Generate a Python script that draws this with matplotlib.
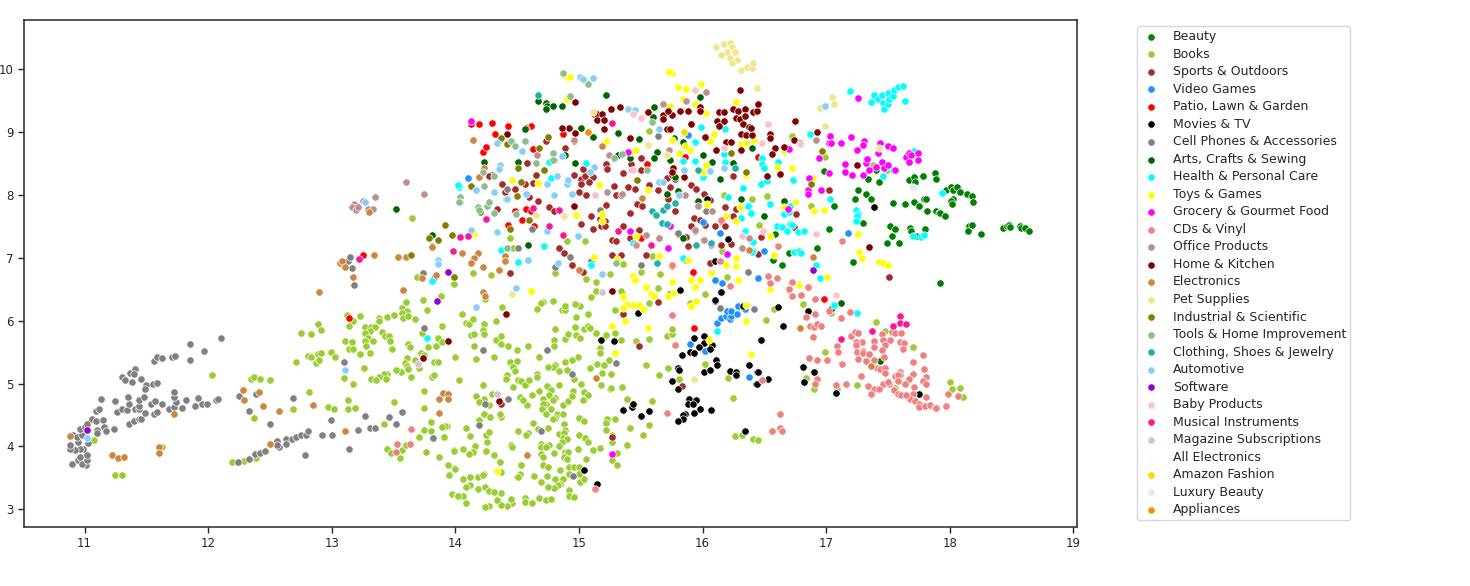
import matplotlib
matplotlib.use("Agg")
import matplotlib.pyplot as plt

beauty = [(17.26,8.08),(17.32,8.01),(17.36,7.94),(17.23,7.94),(17.54,7.87),(17.64,7.85),(17.71,7.89),(17.75,7.83),(17.79,7.94),(17.81,7.94),(17.82,7.75),(17.89,7.75),(17.91,7.71),(17.92,7.71),(17.96,7.67),(17.97,8.08),(18.01,8.13),(18.03,8.07),(18.06,8.12),(18.08,8.04),(18.14,8.01),(18.18,7.98),(18.19,7.89),(18.03,7.94),(18.01,7.90),(18.02,7.85),(17.67,8.23),(17.71,8.29),(17.72,8.21),(17.78,8.30),(17.88,8.34),(17.89,8.26),(17.34,8.25),(17.43,8.20),(17.40,8.39),(16.98,8.38),(17.06,7.83),(17.30,7.55),(17.02,7.45),(17.52,7.51),(17.56,7.46),(17.68,7.47),(17.69,7.42),(17.80,7.45),(17.73,7.35),(17.53,7.35),(17.49,7.23),(17.59,7.24),(16.93,7.15),(16.70,7.08),(17.22,6.93),(16.64,6.88),(16.57,6.97),(16.59,7.38),(18.16,7.51),(18.18,7.52),(18.15,7.43),(18.25,7.38),(18.43,7.48),(18.46,7.51),(18.48,7.52),(18.49,7.49),(18.57,7.51),(18.58,7.48),(18.61,7.48),(18.64,7.43),(17.92,6.60)]

books = [(12.03,5.14),(12.35,5.08),(12.37,5.10),(12.42,5.08),(12.50,5.05),(12.37,4.46),(12.69,4.59),(12.82,4.87),(12.97,4.62),(13.02,4.60),(13.13,4.74),(13.13,4.59),(13.19,4.61),(13.50,4.71),(13.42,4.35),(13.75,4.89),(13.75,4.61),(13.80,4.39),(13.75,4.27),(13.80,4.24),(13.89,4.31),(13.93,4.32),(13.71,4.15),(13.91,4.15),(13.45,3.96),(13.48,3.90),(13.57,3.95),(13.60,4.02),(13.55,3.82),(13.76,3.91),(13.87,3.83),(13.99,3.94),(13.94,3.70),(13.99,3.66),(13.95,3.54),(13.97,3.24),(14.01,3.22),(12.19,3.75),(12.29,3.77),(12.39,3.82),(11.08,4.10),(11.63,3.99),(11.25,3.55),(11.30,3.54),
 (13.12,6.09),(13.17,5.99),(13.14,5.91),(13.23,6.07),(13.38,6.05),(13.38,6.0),(13.45,6.06),(13.50,6.09),(13.57,6.20),(13.60,6.29),(13.61,6.15),(13.57,6.12),(13.58,6.05),(13.62,6.07),(13.67,6.03),(13.74,6.33),(13.77,6.17),(13.88,6.40),(13.89,5.91),(13.73,5.81),(13.27,5.90),(13.32,5.90),(13.35,5.90),(13.31,5.83),(13.27,5.81),(13.41,5.82),(13.43,5.75),(13.46,5.75),(13.47,5.67),(13.29,5.73),(13.33,5.68),(13.27,5.68),(13.11,5.68),(13.16,5.66),(13.14,5.55),(13.17,5.55),(13.28,5.59),(13.23,5.47),(13.31,5.49),(13.49,5.55),(13.62,5.63),(13.63,5.58),(13.78,5.58),(13.84,5.59),(13.88,5.67),(13.86,5.73),(13.72,5.48),(13.75,5.45),(14.0,5.43),(13.61,5.40),(13.59,5.32),(13.61,5.28),(13.62,5.23),(13.67,5.38),(13.71,5.24),(13.83,5.35),(13.86,5.34),(13.56,5.19),(13.52,5.22),(13.45,5.16),(13.42,5.16),(13.38,5.10),(13.32,5.07),(13.36,5.05),(13.44,5.07),(13.64,5.11),(13.26,5.25),(13.10,5.09),(13.17,5.0),(13.81,5.10),(13.83,5.14),(13.69,6.70),(13.98,6.59),(13.65,7.64),(12.89,5.94),(12.91,5.85),(12.75,5.80),(12.83,5.79),(12.81,5.44),(12.83,5.42),(12.89,5.47),(12.91,5.48),(12.99,5.50),(13.03,5.43),(12.87,5.32),(12.90,5.37),(12.71,5.35),
 (14.05,6.11),(14.09,5.97),(14.11,5.95),(14.14,6.02),(14.23,5.94),(14.22,5.85),(14.23,5.79),(14.13,5.78),(14.15,5.79),(14.33,6.0),(14.38,6.21),(14.24,6.34),(13.89,5.66),(14.33,5.70),(14.37,5.76),(14.37,5.63),(14.15,5.59),(14.0,5.43),(14.17,5.39),(14.31,5.42),(14.43,5.59),(14.50,5.53),(14.59,5.60),(14.68,5.42),(14.80,5.69),(14.80,5.59),(14.89,5.71),(14.81,5.87),(14.91,5.79),(14.97,5.90),(14.98,6.06),(15.07,6.11),(15.01,6.23),(14.97,6.27),(14.86,6.17),(14.89,6.17),(14.89,6.23),(14.79,6.32),(14.71,6.30),(14.69,6.28),(14.66,6.19),(15.04,5.86),(15.07,5.92),(15.09,5.89),(15.14,5.81),(14.98,5.77),(15.01,5.72),(14.99,5.43),(14.94,5.38),(14.89,5.35),(14.81,5.30),(14.79,5.27),(14.75,5.26),(14.44,5.34),(14.50,5.36),(14.47,5.27),(14.48,5.20),(14.42,5.14),(14.41,5.08),(14.03,5.06),(14.22,4.97),(14.47,4.95),(14.51,5.05),(14.53,5.04),(14.56,4.98),(14.60,5.06),(14.66,5.16),(14.66,5.11),(14.84,5.20),(14.90,5.21),(14.96,5.07),(15.02,4.99),(15.09,5.25),(15.15,5.31),(15.20,5.30),(15.24,5.38),(15.17,5.56),(15.17,5.49),(15.19,5.17),(15.26,5.15),(15.18,4.97),(15.25,4.91),(15.26,4.93),(15.35,4.94),(15.39,4.76),(15.29,5.81),(15.22,5.77),(15.34,5.70),(15.46,5.67),(15.57,5.71),(15.29,6.17),(15.54,5.29),(15.65,5.13),(15.72,5.24),(15.81,5.07),(16.02,5.31),(16.21,5.09),(16.25,4.77),(15.59,4.72),(15.71,5.75),(15.75,5.79),(15.75,5.86),(15.90,6.28),(16.02,6.43),(15.57,6.28),(15.35,6.44),(15.10,6.38),
 (14.68,4.89),(14.62,4.82),(14.74,4.96),(14.77,4.90),(14.84,4.97),(14.76,4.82),(14.71,4.75),(14.81,4.77),(14.79,4.74),(14.73,4.68),(14.71,4.67),(14.70,4.60),(14.73,4.52),(14.77,4.59),(14.82,4.52),(14.87,4.66),(14.91,4.73),(14.95,4.88),(14.94,4.81),(15.04,4.87),(15.07,4.82),(15.03,4.74),(14.87,4.52),(14.81,4.45),(14.79,4.44),(14.88,4.35),(14.89,4.27),(14.63,4.37),(14.67,4.28),(14.75,4.29),(14.84,4.20),(14.88,4.22),(14.87,4.13),(14.90,4.12),(14.86,4.07),(14.84,4.0),(14.89,3.91),(14.91,3.91),(14.88,3.83),(14.90,3.80),(15.0,4.19),(15.0,4.45),(15.04,4.40),(15.05,4.14),(15.07,4.07),(14.99,3.96),(15.06,3.80),(15.11,3.95),(15.17,3.97),(15.27,4.07),(15.27,4.19),(15.29,4.43),(15.23,4.44),(15.22,4.38),(15.22,4.27),(15.41,4.29),(15.57,4.34),(15.52,4.19),(15.39,4.02),(15.31,3.90),(15.27,3.79),(15.31,3.70),(14.51,4.24),(14.59,4.22),(14.57,4.18),(14.69,4.04),(14.69,3.99),(14.76,4.02),(14.73,3.99),(14.69,3.88),(14.71,3.83),(14.80,3.89),(14.45,4.03),(14.46,3.99),(14.53,3.70),(14.52,3.56),(14.50,3.51),(14.51,3.52),(14.64,3.53),(14.74,3.53),(14.69,3.44),(14.71,3.70),(14.75,3.67),(14.85,3.63),(14.92,3.67),(14.96,3.67),(15.0,3.67),(14.92,3.57),(14.87,3.49),(14.81,3.48),(14.85,3.40),(14.83,3.38),(14.80,3.34),(14.75,3.35),(15.01,3.44),(15.04,3.48),(15.0,3.56),(14.92,3.31),(14.92,3.22),(14.96,3.19),(14.68,3.18),(14.73,3.15),(14.77,3.16),(14.56,3.18),(14.56,3.11),(14.62,3.10),(14.46,3.10),(14.45,3.16),(14.42,3.05),(14.37,3.07),(14.34,3.15),(14.37,3.26),(14.27,3.06),(14.24,3.04),(14.09,3.10),(14.06,3.21),(14.02,3.22),(14.18,3.33),(14.24,3.36),(14.27,3.30),(14.31,3.27),(14.12,3.38),(14.09,3.36),(14.06,3.48),(14.12,3.52),(14.18,3.51),(14.23,3.57),(14.22,3.55),(14.0,3.65),(13.94,3.70),(14.37,3.59),(14.36,3.75),(14.31,3.87),(14.16,4.0),(14.14,3.91),(14.11,3.88),(14.25,3.93),(14.26,4.07),(14.25,4.18),(14.27,4.23),(14.12,4.16),(14.09,4.30),(13.92,4.33),(13.89,4.31),(13.99,3.93),(14.06,3.96),(14.23,4.51),(14.28,4.47),(14.19,4.42),(14.37,4.47),(14.36,4.51),(14.27,4.66),(14.23,4.76),(14.17,4.80),(14.30,4.84),(14.19,4.71),(14.58,4.66),(14.54,4.75),(14.52,4.79),(14.55,4.74),
 (16.26,4.16),(16.32,4.19),(16.41,4.12),(16.45,4.11),(14.44,7.45),(14.44,7.31),(14.42,7.15),(14.47,7.15),(14.90,7.26),(15.05,7.26),(14.14,6.76),(14.29,6.73),(13.99,6.59),(14.81,6.76),(15.06,6.67),(15.14,6.62),(15.25,6.74),(15.14,6.47),(15.34,6.47),(15.50,6.77),(15.36,6.90),(15.59,7.03),(15.57,9.01),(15.66,6.74),(15.64,6.52),(16.02,6.42),(16.20,6.69),(16.16,7.10),(16.17,7.99),(16.40,7.93),
 (16.72,8.93),(16.99,8.61),(17.38,8.48),(17.49,8.39),(16.52,7.98),(16.88,7.83),(16.46,7.52),(17.40,5.98),(17.48,5.83),(17.70,5.58),(16.99,5.50),(16.81,6.26),(17.04,6.12),(16.58,6.19),(16.51,6.01),(16.84,5.09),(16.90,4.91),(17.09,4.92),(17.25,4.97),(17.56,4.93),(18.0,5.02),(18.02,4.92),(18.08,4.93),(18.11,4.78)]

sports = [(14.73,8.85),(14.89,8.75),(14.58,8.51),(14.65,8.32),(14.63,8.19),(14.38,8.18),(14.30,8.31),(14.27,8.30),(14.56,8.17),(14.48,8.10),(14.40,8.04),(14.60,7.96),(14.67,7.90),(14.34,7.77),(14.76,7.80),(14.80,7.74),(15.0,8.05),(15.02,8.25),(15.05,8.30),(15.03,8.41),(15.11,8.28),(15.08,8.20),(15.02,8.17),(15.06,8.0),(14.96,8.31),(15.22,8.49),(15.23,8.41),(15.36,8.34),(15.42,8.49),(15.50,8.58),(15.43,8.40),(15.50,8.39),(15.28,8.14),(15.40,8.12),(15.45,8.09),(15.22,7.84),(15.30,7.99),(15.34,8.0),(15.47,7.86),(15.51,7.82),(15.41,7.71),(15.10,7.67),(15.11,7.46),(15.02,7.54),(15.17,7.61),(15.21,7.59),(15.18,7.50),(15.21,7.50),(15.36,7.51),(15.49,7.44),(15.41,7.32),(15.27,7.29),(15.30,7.26),(14.84,7.16),(14.88,7.08),(14.94,6.89),(15.03,6.77),(15.27,7.05),(15.34,7.05),(15.54,7.04),(15.92,6.76),(15.75,6.87),(15.57,8.16),(15.64,8.08),(15.74,8.12),(15.78,8.26),(15.71,8.27),(15.75,8.32),(15.72,7.94),(15.78,7.74),(15.91,8.15),(15.95,8.09),(16.01,8.01),(16.06,7.92),(16.18,7.81),(16.27,7.77),(16.25,7.67),(16.15,7.59),(16.18,7.51),(16.10,7.51),(16.02,7.52),(15.93,7.63),(15.98,7.60),(15.91,7.51),(15.94,7.43),(15.87,7.33),(15.88,7.18),(15.80,7.38),(15.65,7.31),(16.23,7.22),(16.15,7.20),(16.06,6.92),(16.25,8.30),(14.44,6.75),(15.36,6.11),(15.64,6.29),(15.49,5.59),(15.83,4.96),(14.37,4.68),(15.27,4.15),(17.02,8.07),(16.76,7.69),(16.74,7.49),(16.47,7.33),(16.45,7.06),(17.51,6.70)]

video_games = [(16.12,5.97),(16.15,6.04),(16.19,6.08),(16.22,6.02),(16.23,6.08),(16.20,6.16),(16.23,6.16),(16.29,6.23),(16.28,6.11),(16.34,6.19),(15.90,5.63),(16.02,5.52),(16.38,5.10),(14.10,8.27),(15.88,8.95),(16.14,7.39),(16.00,7.57),(16.10,6.65),(16.16,6.60),(16.45,6.68),(17.18,7.40),(16.50,7.11)]

patio = [(14.13,9.12),(14.19,9.12),(14.30,9.14),(14.43,9.09),(14.61,9.10),(14.57,9.06),(14.32,8.96),(14.22,8.68),(14.25,8.76),(14.63,8.73),(14.87,8.97),(14.96,8.86),(14.57,7.78),(14.48,7.75),(14.54,7.60),(14.61,7.74),(14.64,7.51),(14.43,7.52),(15.55,8.49),(15.86,8.61),(15.50,7.31),(15.92,6.77),(15.87,6.96),(13.25,7.04),(13.14,6.05),(15.93,5.89),(16.98,6.34),(16.45,8.61)]

movies = [(15.18,5.70),(15.28,5.68),(15.48,6.13),(15.74,6.43),(16.10,6.31),(16.15,6.45),(16.33,6.24),(16.01,5.76),(15.93,5.72),(16.01,5.65),(15.97,5.58),(16.08,5.61),(16.06,5.55),(15.90,5.50),(15.83,5.46),(15.93,5.48),(16.11,5.37),(16.12,5.30),(15.80,5.24),(15.81,5.21),(15.75,5.04),(15.80,4.92),(16.01,5.19),(16.06,5.21),(16.22,5.20),(16.27,5.18),(16.27,5.14),(16.38,5.30),(16.44,5.19),(16.43,4.99),(15.89,4.76),(15.95,4.74),(15.88,4.68),(15.92,4.67),(15.98,4.60),(16.07,4.58),(15.93,4.53),(15.86,4.52),(15.84,4.50),(15.84,4.43),(15.80,4.41),(15.36,4.58),(15.43,4.63),(15.44,4.68),(15.50,4.48),(15.57,4.56),(15.04,3.62),(15.15,3.40),(16.34,4.24),(16.61,6.21),(16.85,6.16),(17.04,6.19),(16.65,5.91),(16.47,5.69),(16.45,5.19),(16.53,5.07),(16.44,5.0),(16.81,5.27),(16.90,5.19),(16.82,5.02),(17.08,4.85),(17.75,4.83),(17.39,7.80),(16.10,6.95),(16.04,7.93),(16.21,7.30),(15.82,6.49),(16.15,6.46),(16.10,6.33)]

cell_phones = [(10.90,3.72),(10.95,3.78),(10.96,3.83),(11.01,3.71),(10.98,3.72),(11.02,3.78),(11.02,3.87),(10.99,3.96),(10.96,3.96),(10.92,3.95),(10.88,3.96),(10.88,4.03),(10.95,4.07),(10.91,4.18),(10.94,4.15),(10.98,4.19),(10.96,4.28),(11.0,4.31),(11.02,4.36),(11.06,4.43),(11.09,4.40),(11.15,4.42),(11.10,4.26),(11.10,4.22),(11.16,4.31),(11.17,4.24),(11.24,4.28),(11.03,4.05),(11.36,4.35),(11.40,4.41),(11.44,4.43),(11.46,4.44),(11.56,4.51),(11.59,4.55),(11.49,4.54),(11.26,4.55),(11.30,4.59),(11.34,4.58),(11.36,4.67),(11.41,4.59),(11.44,4.59),(11.44,4.65),(11.44,4.74),(11.48,4.79),(11.54,4.68),(11.57,4.72),(11.63,4.68),(11.68,4.60),(11.72,4.62),(11.74,4.71),(11.72,4.79),(11.72,4.87),(11.79,4.61),(11.82,4.74),(11.89,4.65),(11.92,4.77),(11.95,4.68),(11.99,4.67),(12.06,4.74),(12.08,4.76),(11.35,4.79),(11.25,4.72),(11.13,4.76),(11.09,4.56),(11.12,4.59),(11.30,5.11),(11.33,5.05),(11.38,5.02),(11.37,5.17),(11.41,5.23),(11.40,5.16),(11.46,5.07),(11.50,4.98),(11.49,4.92),(11.55,5.0),(11.59,5.01),(11.56,5.36),(11.59,5.43),(11.63,5.41),(11.71,5.43),(11.73,5.44),(11.85,5.38),(11.85,5.63),(11.97,5.52),(12.10,5.72),
 (12.25,4.81),(12.39,4.83),(12.33,4.57),(12.50,4.35),(12.69,4.77),(12.38,3.88),(12.42,3.89),(12.46,3.93),(12.56,4.08),(12.57,3.99),(12.63,4.12),(12.68,4.12),(12.71,4.15),(12.75,4.18),(12.79,4.18),(12.81,4.25),(12.92,4.18),(13.0,4.18),(12.78,3.87),(12.99,4.42),(13.27,4.49),(13.21,4.27),(13.31,4.29),(13.35,4.29),(13.46,4.47),(13.52,4.36),(13.57,4.55),(13.14,3.96),(13.10,5.35),(13.82,4.14),(12.24,3.76),(12.33,3.80),(12.56,4.02),(12.63,4.04),(13.75,5.88),(13.74,6.76),(13.83,6.68),(13.18,6.56),(13.16,6.83),(13.13,6.95),(13.15,7.01),(13.81,7.19),
 (14.22,5.53),(14.74,5.54),(14.94,5.15),(15.30,5.32),(16.14,6.20),(16.42,6.18),(14.24,4.67),(14.43,4.76),(14.19,4.34),(14.69,4.24),(14.95,3.53),(15.17,7.76),(14.93,7.01),(14.81,6.86),(14.51,7.16),(15.50,6.89),(16.03,7.74),(16.37,6.77),(15.80,7.39),(15.64,8.94),(14.42,8.09),(14.62,7.46),(15.10,6.95)]

arts = [(14.67,9.49),(14.73,9.46),(14.74,9.42),(14.73,9.37),(14.79,9.41),(14.86,9.41),(15.22,9.58),(14.23,8.53),(14.51,8.52),(14.89,8.63),(14.97,8.51),(15.32,8.98),(15.11,8.92),(15.49,8.89),(15.63,8.68),(15.61,8.58),(15.41,8.58),(15.32,8.63),(15.61,9.40),(15.60,9.24),(15.98,9.55),(15.77,8.91),(15.84,8.84),(16.0,8.64),(16.25,8.50),(16.08,8.52),(15.78,8.29),(16.14,8.26),(15.71,8.02),(15.80,8.06),(15.96,7.91),(16.31,7.94),(14.59,7.21),(15.84,7.32),(15.02,9.06),(16.40,8.74),(14.56,9.04),(15.74,8.55),(16.66,7.91),(16.50,7.67),(13.52,7.77),(13.81,7.36),(17.44,5.36),(17.12,6.28)]

health = [(17.19,9.65),(17.39,9.58),(17.36,9.48),(17.42,9.53),(17.45,9.58),(17.46,9.46),(17.47,9.37),(17.50,9.44),(17.50,9.62),(17.51,9.53),(17.54,9.57),(17.55,9.66),(17.58,9.71),(17.62,9.73),(17.64,9.49),(17.71,8.69),(16.48,8.58),(16.48,8.49),(16.50,8.43),(16.61,8.52),(16.47,8.18),(16.52,8.22),(16.73,8.24),(16.87,8.97),(17.03,7.93),(16.55,7.85),(16.38,7.83),(16.39,7.70),(16.66,7.70),(16.71,7.82),(16.70,7.72),(16.60,7.51),(16.64,7.49),(16.68,7.43),(16.71,7.54),(16.72,7.52),(16.77,7.41),(16.82,7.42),(17.24,7.76),(17.26,7.69),(17.25,7.67),(17.24,7.59),(17.70,7.35),(17.77,7.33),(17.79,7.36),(16.40,7.25),(16.41,7.10),(16.74,7.09),(16.78,7.11),(16.80,7.07),(16.92,6.88),(16.95,6.68),(17.46,8.30),(17.54,8.40),(17.94,8.03),(14.03,8.13),(14.76,8.52),(14.77,8.27),(15.06,8.50),(14.37,7.13),(14.72,7.19),(14.51,6.94),(15.10,6.88),(15.84,8.54),(15.94,8.84),(15.99,9.08),(16.0,8.28),(16.17,8.65),(16.18,8.52),(16.18,9.04),(16.33,8.11),(16.37,7.82),(16.39,7.71),(16.31,7.64),(16.34,7.43),(16.41,7.25),(16.40,7.09),(15.84,6.99),(15.44,7.24),(16.21,7.97),(15.94,8.54),(16.12,5.83),(17.25,6.12),(17.06,6.25),(13.77,5.73),(13.81,6.63),(14.02,8.15)]

toys = [(15.36,6.38),(15.39,6.27),(15.44,6.25),(15.49,6.25),(15.52,6.18),(15.36,6.20),(15.37,5.99),(15.27,5.91),(15.56,5.89),(15.29,5.49),(15.58,6.43),(15.61,6.39),(15.72,6.40),(15.76,6.44),(15.95,6.32),(15.91,6.23),(16.05,5.70),(16.35,6.0),(16.39,5.47),(16.35,6.25),(14.61,6.45),(14.34,3.61),(15.75,9.93),(15.73,9.96),(15.80,9.72),(15.87,9.68),(15.99,9.76),(14.90,9.53),(14.90,9.87),(14.93,9.88),(15.05,9.81),(15.84,9.53),(15.74,9.42),(15.94,9.45),(16.03,9.30),(16.27,9.48),(16.09,8.96),(16.06,8.85),(15.75,8.87),(15.81,8.67),(15.86,8.77),(15.90,8.72),(15.22,8.85),(15.42,8.68),(15.46,8.71),(14.46,8.24),(14.67,8.19),(15.16,8.16),(15.56,8.08),(14.98,7.68),(15.19,7.69),(15.19,7.59),(15.31,6.98),(15.12,7.02),(14.15,7.37),(15.46,7.35),(16.0,8.36),(16.03,8.47),(16.35,8.31),(16.31,8.81),(16.35,8.82),(16.42,8.88),(16.19,7.66),(16.27,7.59),(16.30,7.81),(16.04,7.85),(15.65,7.03),(15.88,6.96),(16.27,7.0),(16.27,6.87),(16.19,6.89),(16.07,6.76),(15.91,6.64),(15.98,6.64),(15.94,6.53),(16.29,6.65),(15.75,6.62),(15.54,6.54),(15.44,6.71),(15.45,6.64),(14.61,6.47),(16.66,8.70),(16.60,8.45),(16.72,8.42),(16.89,8.27),(16.75,7.89),(16.90,7.74),(16.98,7.76),(16.66,7.80),(17.26,7.38),(17.27,7.09),(17.29,7.0),(17.43,6.94),(17.46,6.92),(17.50,6.89),(17.01,6.70),(16.78,6.57),(16.55,6.50),(16.55,7.35),(16.58,7.05)]

grocery = [(17.26,9.54),(17.03,8.94),(17.02,8.82),(17.04,8.82),(17.12,8.83),(17.20,8.92),(17.25,8.72),(17.31,8.85),(17.30,8.80),(17.42,8.67),(17.44,8.82),(17.50,8.77),(17.54,8.75),(16.94,8.58),(16.70,8.73),(17.15,8.49),(17.15,8.37),(17.21,8.32),(17.30,8.32),(17.02,8.35),(17.32,8.50),(17.33,8.57),(17.40,8.44),(17.35,8.40),(17.45,8.52),(17.47,8.42),(17.50,8.47),(17.56,8.40),(17.65,8.60),(17.67,8.67),(17.69,8.64),(17.74,8.66),(17.74,8.56),(17.67,8.53),(16.96,8.08),(16.85,8.08),(16.85,8.01),(16.86,8.27),(16.69,7.78),(14.13,9.18),(15.74,7.51),(15.41,7.43),(15.72,7.15),(16.20,7.06),(15.40,8.68),(15.27,3.88)]

cds = [(17.19,6.14),(17.12,6.04),(16.91,6.11),(16.84,6.06),(16.87,5.91),(16.90,5.90),(16.93,5.95),(16.96,5.92),(16.89,5.74),(17.20,5.76),(17.23,5.82),(17.26,5.80),(17.45,5.79),(17.53,5.82),(17.56,5.80),(17.61,5.81),(17.39,5.67),(17.46,5.69),(17.52,5.69),(17.48,5.62),(17.39,5.58),(17.45,5.54),(17.29,5.66),(17.24,5.66),(17.24,5.61),(17.09,5.59),(17.10,5.50),(17.25,5.51),(17.30,5.52),(17.30,5.49),(17.35,5.47),(17.26,5.39),(17.32,5.36),(17.39,5.37),(17.47,5.42),(17.01,5.37),(16.86,5.40),(16.93,5.38),(17.13,5.31),(17.41,5.25),(17.44,5.23),(17.48,5.24),(17.48,5.17),(17.28,5.12),(17.60,5.66),(17.63,5.65),(17.62,5.55),(17.78,5.46),(17.70,5.35),(17.79,5.23),(17.70,5.16),(17.81,5.10),(17.78,5.04),(17.81,5.0),(17.67,5.07),(17.64,4.99),(17.60,5.19),(17.60,5.14),(17.56,5.12),(17.58,5.13),(17.58,5.04),(17.51,5.0),(17.46,5.0),(17.50,5.03),(17.55,4.90),(17.71,4.94),(17.70,4.84),(17.68,4.76),(17.72,4.72),(17.75,4.67),(17.75,4.63),(17.80,4.64),(17.81,4.78),(17.84,4.66),(17.88,4.61),(17.89,4.61),(17.97,4.65),(17.58,4.83),(17.61,4.82),(17.65,4.82),(17.39,4.92),(17.43,4.91),(17.34,4.96),(17.36,4.83),(17.16,4.99),(17.08,4.98),(16.93,5.08),(16.91,4.99),(16.48,5.06),(18.07,4.80),(17.99,4.84),(16.63,4.52),(16.56,4.24),(16.63,4.29),(16.64,4.24),(16.70,6.49),(16.72,6.40),(16.80,6.41),(16.91,6.34),(16.85,6.54),(17.02,6.16),(16.55,6.60),(17.13,7.26),(16.61,7.19),(16.53,6.71),(16.60,6.68),(16.72,6.62),(16.70,6.51),(16.85,6.53),(16.0,7.29),(16.07,7.20),(16.15,7.60),(15.75,6.88),(16.14,6.95),(16.22,6.55),(15.46,7.20),(15.75,6.09),(15.78,5.62),(15.71,4.54),(15.13,3.32),(13.64,4.28),(13.53,4.04),(13.52,3.91),(13.63,4.04)]

office = [(13.35,7.97),(13.18,7.86),(13.16,7.81),(13.20,7.76),(13.21,7.81),(13.25,7.90),(13.29,7.77),(13.33,7.77),(13.75,8.01),(13.60,8.21),(14.66,8.63),(15.24,8.64),(15.23,8.04),(15.35,8.01),(15.68,9.44),(15.87,9.50),(16.03,9.63),(15.73,8.71),(15.86,8.0),(15.96,7.83),(16.08,7.74),(15.54,7.36),(15.65,7.31),(16.01,7.29),(16.32,7.16),(16.38,7.32),(15.94,7.44),(16.12,9.17),(14.96,8.88),(14.41,7.93),(16.92,8.88)]

home_kitchen = [(14.97,9.47),(14.97,8.98),(14.92,9.07),(14.86,9.06),(15.12,9.29),(15.15,9.29),(15.19,9.29),(15.15,9.19),(15.20,9.19),(15.20,9.05),(15.26,9.36),(15.33,9.40),(15.41,8.91),(15.56,9.32),(15.68,9.27),(15.68,9.21),(15.75,9.27),(15.72,9.34),(15.71,9.04),(15.74,9.04),(15.82,9.34),(15.88,9.33),(15.91,9.12),(15.98,9.39),(15.98,9.33),(16.30,9.66),(16.13,9.32),(16.17,9.32),(16.25,9.37),(16.29,9.33),(16.34,9.36),(16.41,9.32),(16.44,9.33),(16.27,9.22),(16.12,9.17),(16.17,9.17),(16.13,9.10),(16.30,9.21),(16.34,9.25),(16.33,9.12),(16.38,9.08),(16.31,8.96),(16.35,8.95),(16.40,8.95),(16.19,8.84),(16.23,8.84),(16.31,8.72),(16.11,8.72),(16.02,8.92),(15.76,8.43),(15.75,8.36),(15.85,8.28),(14.96,7.82),(14.42,8.96),(15.27,6.47),(14.41,6.10),(13.94,5.68),(14.35,4.73),(13.74,5.40),(16.45,9.45),(16.75,9.17),(16.93,9.0),(16.55,8.96),(16.55,8.91),(16.39,9.07),(16.74,8.88),(16.79,8.83),(16.59,8.74),(16.66,8.76),(16.56,8.65),(16.52,8.30),(16.63,8.33),(17.25,8.48),(17.35,7.17)]

electronics = [(10.88,4.17),(11.22,3.87),(11.27,3.82),(11.32,3.83),(11.60,3.99),(11.60,3.89),(11.72,4.52),(12.28,4.90),(12.41,4.86),(12.29,4.74),(12.44,4.65),(12.57,4.57),(12.85,4.66),(13.11,4.25),(12.50,4.04),(13.87,4.54),(13.90,4.85),(13.94,4.83),(13.87,4.75),(13.94,4.76),(13.58,6.49),(13.17,6.69),(12.90,6.45),(13.07,6.92),(13.08,6.95),(13.11,6.85),(13.34,7.04),(13.54,7.02),(13.60,7.02),(13.81,7.17),(13.84,6.73),(13.73,6.68),(13.30,7.72),(15.14,5.09),(14.58,3.86),(14.14,8.88),(14.19,8.29),(14.23,8.43),(15.51,7.95),(15.19,8.77),(14.05,7.08),(14.18,7.08),(14.15,7.0),(14.13,6.91),(14.22,6.85),(14.35,6.81),(14.40,7.03),(14.40,6.95),(14.22,6.46),(14.24,6.40),(15.0,6.81),(16.38,7.13),(16.79,5.88),(17.36,5.28),(16.89,7.02)]

pet_supplies = [(16.11,10.35),(16.17,10.40),(16.22,10.42),(16.24,10.35),(16.20,10.27),(16.26,10.27),(16.15,10.22),(16.22,10.18),(16.28,10.14),(16.24,10.10),(16.31,9.98),(16.36,10.03),(16.40,10.02),(16.44,9.70),(15.11,9.31),(14.65,7.68),(14.88,7.67),(15.56,8.80),(15.71,8.64),(14.46,6.43),(15.93,5.07),(17.05,9.56),(17.06,9.44),(16.95,9.38),(16.99,9.10),(16.41,10.09),(17.43,8.75)]

industrial = [(13.92,7.52),(13.79,7.32),(13.86,7.29),(13.97,7.36),(13.64,7.05),(13.99,6.70),(14.13,8.14),(14.37,8.90),(14.42,8.81),(14.53,8.21),(14.51,8.43),(14.50,7.98),(14.68,8.75),(14.80,8.55),(14.72,8.40),(14.75,8.92),(15.47,8.24),(16.23,8.67),(16.35,8.36),(14.60,7.60),(14.44,7.45),(14.20,7.72),(16.97,8.69),(16.88,8.17)]

tools = [(14.45,8.85),(14.48,8.77),(14.56,8.85),(14.65,8.50),(14.31,8.30),(14.22,8.36),(14.23,8.14),(14.04,7.96),(14.04,7.88),(14.18,7.80),(14.19,7.76),(14.26,7.82),(14.27,7.88),(14.31,7.71),(14.49,7.69),(14.79,8.67),(14.79,8.55),(14.42,7.15),(15.07,9.76),(14.87,9.93),(14.93,9.57),(15.28,8.59),(15.35,8.65),(15.55,8.39),(15.59,9.16),(15.30,6.91),(14.03,7.88)]

clothing = [(14.67,9.58),(15.59,7.74),(15.62,7.68),(15.68,7.76),(15.71,7.83),(15.78,7.87),(15.67,7.55),(15.71,7.53),(15.96,8.40),(16.26,8.42),(15.95,7.20),(16.07,7.23),(15.63,6.92)]

automotive = [(15.01,9.87),(15.03,9.84),(15.11,9.86),(15.40,9.36),(15.45,9.35),(15.65,9.05),(15.65,8.21),(15.68,8.21),(15.85,8.39),(16.06,8.38),(16.17,8.42),(14.36,8.48),(14.35,8.41),(14.34,8.82),(14.17,8.07),(14.31,8.05),(14.42,7.94),(14.57,8.02),(14.54,8.69),(14.80,7.99),(14.82,8.30),(14.74,8.18),(14.90,8.17),(14.91,8.23),(14.94,8.01),(15.12,8.45),(15.09,8.36),(14.74,7.42),(14.34,7.41),(14.99,7.34),(14.13,7.44),(14.59,6.96),(15.19,6.74),(14.49,6.52),(14.83,6.91),(15.81,7.99),(14.86,8.62),(13.27,7.88),(11.02,4.14),(13.11,5.21),(13.86,6.96),(13.86,6.90),(14.17,6.21),(16.99,9.41)]

software = [(11.02,4.26),(13.94,6.77),(13.85,6.31),(16.89,6.80)]
baby = [(15.50,9.22),(15.44,9.29),(15.13,8.0),(15.94,9.66),(16.17,8.75),(16.32,7.35),(15.44,8.40),(16.53,9.12),(16.48,8.82),(16.79,8.81),(16.92,7.38),(16.49,7.43),(17.08,6.41)]
musical = [(13.22,6.98),(13.98,7.11),(15.27,9.15),(14.25,7.61),(14.04,7.33),(14.10,7.35),(14.63,7.79),(14.76,7.51),(14.87,7.36),(14.84,7.76),(15.32,7.43),(15.58,7.21),(17.60,6.08),(17.54,5.91),(17.60,5.96),(17.65,5.95),(17.37,5.83),(17.12,5.71)]
magazine = [(13.70,5.31),(14.34,4.83),(15.19,6.45)]
all_electronics = [(12.65,5.52)]
amazon_fashion = [(15.85,9.00)]
luxury_beauty = [(17.70,8.12)]
appliances = [(15.07,9.00)]

series = [
    ("Beauty", beauty, "green"),
    ("Books", books, "yellowgreen"),
    ("Sports & Outdoors", sports, "brown"),
    ("Video Games", video_games, "dodgerblue"),
    ("Patio, Lawn & Garden", patio, "red"),
    ("Movies & TV", movies, "black"),
    ("Cell Phones & Accessories", cell_phones, "gray"),
    ("Arts, Crafts & Sewing", arts, "darkgreen"),
    ("Health & Personal Care", health, "cyan"),
    ("Toys & Games", toys, "yellow"),
    ("Grocery & Gourmet Food", grocery, "magenta"),
    ("CDs & Vinyl", cds, "lightcoral"),
    ("Office Products", office, "rosybrown"),
    ("Home & Kitchen", home_kitchen, "maroon"),
    ("Electronics", electronics, "peru"),
    ("Pet Supplies", pet_supplies, "khaki"),
    ("Industrial & Scientific", industrial, "olive"),
    ("Tools & Home Improvement", tools, "darkseagreen"),
    ("Clothing, Shoes & Jewelry", clothing, "lightseagreen"),
    ("Automotive", automotive, "lightskyblue"),
    ("Software", software, "darkviolet"),
    ("Baby Products", baby, "pink"),
    ("Musical Instruments", musical, "deeppink"),
    ("Magazine Subscriptions", magazine, "thistle"),
    ("All Electronics", all_electronics, "ivory"),
    ("Amazon Fashion", amazon_fashion, "gold"),
    ("Luxury Beauty", luxury_beauty, "lavender"),
    ("Appliances", appliances, "darkorange"),
]

W, H = 1470, 586
fig = plt.figure(figsize=(W / 100, H / 100), dpi=100)
ax = fig.add_axes([24 / W, 1 - 527 / H, (1077 - 24) / W, (527 - 20) / H])
dark = "#262626"

for name, pts, col in series:
    xs = [p[0] for p in pts]
    ys = [p[1] for p in pts]
    ax.scatter(xs, ys, s=28, c=col, edgecolors="white", linewidths=0.5, label=name)

ax.set_xlim(10.51, 19.03)
ax.set_ylim(2.72, 10.78)
ax.set_xticks(range(11, 20))
ax.set_yticks(range(3, 11))
ax.tick_params(colors=dark, labelsize=8.5, length=4, width=1, direction="out")
for s in ax.spines.values():
    s.set_color(dark)
    s.set_linewidth(1.1)

leg = ax.legend(loc="upper left", bbox_to_anchor=(1137 / W, 1 - 26 / H),
                bbox_transform=fig.transFigure, borderaxespad=0, fontsize=9,
                labelspacing=0.362, handlelength=1.6, handletextpad=0.94, borderpad=0.33,
                frameon=True, fancybox=True, edgecolor="#cccccc", framealpha=0.8)
for t in leg.get_texts():
    t.set_color(dark)

fig.savefig("out.png", dpi=100, facecolor="white")
